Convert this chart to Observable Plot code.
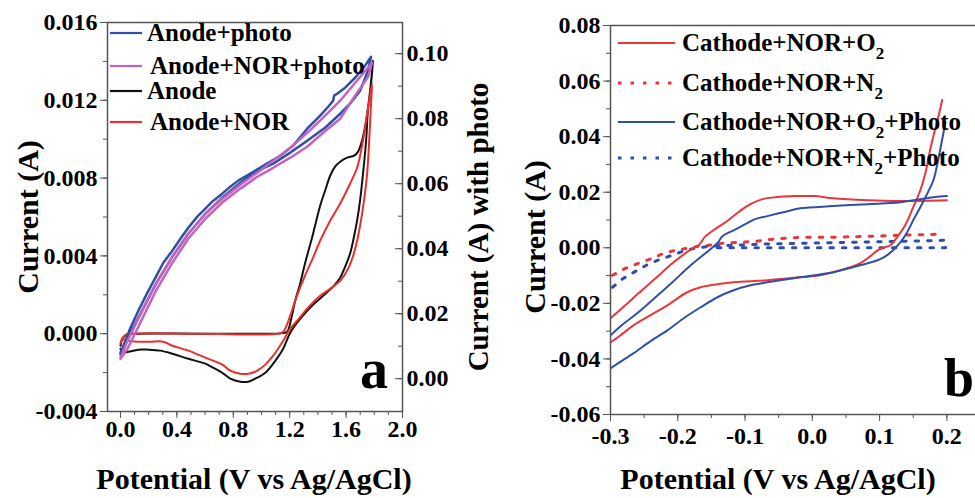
<!DOCTYPE html>
<html><head><meta charset="utf-8">
<script src="https://cdn.jsdelivr.net/npm/d3@7"></script>
<script src="https://cdn.jsdelivr.net/npm/@observablehq/plot@0.6"></script>
<style>
html,body{margin:0;padding:0;background:#fff;overflow:hidden}
#wrap{position:relative;width:975px;height:498px;overflow:hidden;background:#fff}
#wrap svg{position:absolute;top:0}
</style></head><body><div id="wrap"></div>
<script>
// ---------- Panel a data: [potential V, current A] ----------
const aSeries = ["Anode+photo", "Anode+NOR+photo", "Anode", "Anode+NOR"];
const aColors = ["#2f4fa6", "#c462c0", "#111111", "#e8312f"];
const anodePhoto = [[0.000,-0.00098],[0.035,-0.00036],[0.071,0.00031],[0.127,0.00118],[0.191,0.00211],[0.248,0.00288],[0.304,0.00365],[0.368,0.00427],[0.425,0.00488],[0.481,0.00545],[0.545,0.00602],[0.602,0.00643],[0.658,0.00684],[0.722,0.00720],[0.779,0.00756],[0.835,0.00787],[0.906,0.00817],[0.977,0.00848],[1.048,0.00879],[1.133,0.00915],[1.225,0.00967],[1.324,0.01054],[1.416,0.01121],[1.473,0.01167],[1.508,0.01198],[1.515,0.01224],[1.536,0.01234],[1.593,0.01265],[1.664,0.01316],[1.735,0.01378],[1.777,0.01424],[1.756,0.01352],[1.699,0.01249],[1.628,0.01183],[1.558,0.01131],[1.451,0.01059],[1.324,0.00992],[1.204,0.00931],[1.083,0.00874],[0.977,0.00838],[0.850,0.00776],[0.722,0.00699],[0.602,0.00617],[0.481,0.00514],[0.368,0.00396],[0.248,0.00252],[0.127,0.00082],[0.035,-0.00051],[0.000,-0.00108]];
const anodeNorPhoto = [[0.000,-0.00123],[0.050,-0.00036],[0.127,0.00077],[0.191,0.00170],[0.248,0.00252],[0.368,0.00396],[0.481,0.00514],[0.602,0.00617],[0.722,0.00694],[0.850,0.00766],[0.970,0.00828],[1.083,0.00889],[1.204,0.00956],[1.324,0.01033],[1.437,0.01111],[1.558,0.01198],[1.664,0.01290],[1.756,0.01368],[1.784,0.01393],[1.756,0.01321],[1.664,0.01224],[1.558,0.01105],[1.437,0.01033],[1.324,0.00961],[1.204,0.00905],[1.083,0.00853],[0.970,0.00807],[0.850,0.00746],[0.722,0.00674],[0.602,0.00591],[0.481,0.00488],[0.368,0.00365],[0.248,0.00216],[0.127,0.00036],[0.050,-0.00077],[0.000,-0.00129]];
const anode = [[0.000,-0.00062],[0.014,-0.00026],[0.042,-0.00005],[0.106,0],[0.566,0],[1.062,0],[1.147,0.00003],[1.182,0.0001],[1.211,0.00077],[1.239,0.0017],[1.274,0.00257],[1.310,0.00365],[1.359,0.00494],[1.416,0.00658],[1.451,0.00735],[1.487,0.00812],[1.522,0.00859],[1.558,0.00884],[1.607,0.00905],[1.657,0.00915],[1.685,0.00936],[1.713,0.00992],[1.742,0.01095],[1.770,0.01249],[1.791,0.01404],[1.777,0.01285],[1.756,0.01162],[1.742,0.00992],[1.720,0.00823],[1.699,0.00684],[1.678,0.00581],[1.650,0.00478],[1.628,0.00411],[1.593,0.00344],[1.558,0.00288],[1.508,0.00242],[1.437,0.00195],[1.381,0.00159],[1.324,0.00118],[1.253,0.00057],[1.204,0.00005],[1.154,-0.00077],[1.119,-0.00118],[1.083,-0.00154],[1.027,-0.00201],[0.970,-0.00226],[0.906,-0.00247],[0.850,-0.00247],[0.779,-0.00231],[0.722,-0.00201],[0.658,-0.00175],[0.602,-0.00154],[0.481,-0.00129],[0.368,-0.00103],[0.283,-0.00087],[0.198,-0.00082],[0.127,-0.00082],[0.057,-0.00093],[0.014,-0.00098],[0.000,-0.00077]];
const anodeNor = [[0.000,-0.00051],[0.014,-0.00021],[0.042,-0.00005],[0.085,0],[0.566,0],[1.119,0],[1.154,0.0001],[1.204,0.00093],[1.239,0.0017],[1.274,0.00237],[1.324,0.00324],[1.366,0.00391],[1.416,0.00478],[1.487,0.00581],[1.558,0.00669],[1.628,0.00771],[1.678,0.00853],[1.720,0.00992],[1.756,0.01162],[1.784,0.01285],[1.777,0.01183],[1.770,0.0108],[1.749,0.00823],[1.720,0.00648],[1.699,0.00555],[1.678,0.00478],[1.650,0.00401],[1.614,0.00334],[1.558,0.00272],[1.487,0.00231],[1.416,0.00195],[1.324,0.00129],[1.253,0.00067],[1.204,0.00026],[1.154,-0.00036],[1.083,-0.00113],[1.027,-0.00159],[0.970,-0.0019],[0.906,-0.00206],[0.850,-0.00206],[0.779,-0.0019],[0.722,-0.00159],[0.602,-0.00123],[0.481,-0.00087],[0.368,-0.00062],[0.304,-0.00041],[0.212,-0.00041],[0.127,-0.00041],[0.057,-0.00036],[0.014,-0.00031],[0.000,-0.00051]];
const aXTicks = [0.0, 0.4, 0.8, 1.2, 1.6, 2.0];
const aYTicks = [-0.004, 0.000, 0.004, 0.008, 0.012, 0.016];
const aRightTicks = [0.00, 0.02, 0.04, 0.06, 0.08, 0.10];

// ---------- Panel b data ----------
const bSeries = ["Cathode+NOR+O|2|", "Cathode+NOR+N|2|", "Cathode+NOR+O|2|+Photo", "Cathode+NOR+N|2|+Photo"];
const bColors = ["#e8363a", "#e8363a", "#2f4fa8", "#2f4fa8"];
const cathO2Up = [[-0.300,-0.0254],[-0.278,-0.0207],[-0.2585,-0.0164],[-0.233,-0.0110],[-0.208,-0.0056],[-0.189,-0.0020],[-0.177,0],[-0.169,0.0009],[-0.159,0.0041],[-0.147,0.0063],[-0.129,0.0092],[-0.110,0.0128],[-0.092,0.0157],[-0.074,0.0175],[-0.055,0.0182],[-0.025,0.0186],[0.0045,0.0186],[0.031,0.0178],[0.082,0.0171],[0.131,0.0168],[0.200,0.0171]];
const cathO2Down = [[-0.300,-0.0341],[-0.285,-0.0315],[-0.266,-0.0279],[-0.241,-0.0243],[-0.2155,-0.0207],[-0.186,-0.0160],[-0.166,-0.0142],[-0.144,-0.0132],[-0.117,-0.0124],[-0.067,-0.0117],[-0.018,-0.0106],[0.012,-0.0099],[0.031,-0.0088],[0.0565,-0.0070],[0.071,-0.0056],[0.086,-0.0031],[0.097,-0.0009],[0.1055,0],[0.116,0.0009],[0.126,0.0038],[0.138,0.0081],[0.150,0.0146],[0.1605,0.0207],[0.168,0.0268],[0.175,0.0351],[0.183,0.0431],[0.189,0.0488],[0.193,0.0532]];
const cathN2 = [[-0.297,-0.0099],[-0.278,-0.0074],[-0.2585,-0.0056],[-0.238,-0.0038],[-0.221,-0.0020],[-0.204,-0.0009],[-0.186,-0.0002],[-0.171,0.0005],[-0.1545,0.0009],[-0.134,0.0016],[-0.110,0.0020],[-0.085,0.0023],[-0.059,0.0031],[-0.018,0.0038],[0.031,0.0038],[0.082,0.0041],[0.131,0.0045],[0.190,0.0049]];
const cathO2PhotoUp = [[-0.300,-0.0315],[-0.282,-0.0276],[-0.2585,-0.0232],[-0.233,-0.0178],[-0.208,-0.0124],[-0.184,-0.0070],[-0.159,-0.0020],[-0.149,0],[-0.140,0.0020],[-0.134,0.0041],[-0.117,0.0063],[-0.0996,0.0085],[-0.085,0.0103],[-0.067,0.0114],[-0.043,0.0128],[-0.018,0.0142],[0.031,0.0150],[0.082,0.0157],[0.131,0.0164],[0.180,0.0182],[0.200,0.0186]];
const cathO2PhotoDown = [[-0.300,-0.0434],[-0.282,-0.0405],[-0.266,-0.0380],[-0.241,-0.0337],[-0.2155,-0.0297],[-0.189,-0.0250],[-0.166,-0.0214],[-0.141,-0.0178],[-0.117,-0.0153],[-0.092,-0.0135],[-0.067,-0.0124],[-0.018,-0.0106],[0.031,-0.0088],[0.071,-0.0063],[0.097,-0.0045],[0.1085,-0.0031],[0.120,-0.0009],[0.131,0.0020],[0.141,0.0056],[0.150,0.0099],[0.1605,0.0146],[0.171,0.0196],[0.180,0.0243],[0.187,0.0315],[0.192,0.0377],[0.198,0.0452]];
const cathN2Photo = [[-0.297,-0.0142],[-0.281,-0.0110],[-0.263,-0.0085],[-0.244,-0.0059],[-0.226,-0.0041],[-0.208,-0.0027],[-0.189,-0.0009],[-0.174,-0.0002],[-0.1545,0.0005],[-0.122,0.0009],[-0.077,0.0013],[-0.018,0.0016],[0.0565,0.0020],[0.131,0.0023],[0.198,0.0027],[0.198,0],[0.0565,0],[-0.092,0],[-0.144,0]];
const bXTicks = [-0.3, -0.2, -0.1, 0.0, 0.1, 0.2];
const bYTicks = [-0.06, -0.04, -0.02, 0.00, 0.02, 0.04, 0.06, 0.08];

// ---------- helpers ----------
const FONT = "Liberation Serif, Times New Roman, Times, serif";
const FRAME = "#555";
const fx = d => d[0], fy = d => d[1];
const wrap = document.getElementById("wrap");
const round = v => Math.round(v * 1e6) / 1e6;
// right axis of panel a (current with photo) expressed in left-axis units
const rightToLeft = r => -0.002314 + 0.16710 * r;
const leftToRight = c => (c + 0.002314) / 0.16710;

function txt(svg, x, y, s, o = {}) {
  const t = d3.select(svg).append("text")
    .attr("x", x).attr("y", y)
    .attr("font-family", FONT).attr("font-weight", "bold")
    .attr("font-size", o.size || 24).attr("fill", "#000")
    .attr("text-anchor", o.anchor || "start");
  if (o.rotate) t.attr("transform", `rotate(${o.rotate},${x},${y})`);
  const parts = s.split("|");
  parts.forEach((p, i) => {
    if (!p) return;
    const sub = i % 2 === 1;
    t.append("tspan").text(p)
      .attr("font-size", sub ? 17 : null)
      .attr("dy", sub ? 8 : (i > 0 ? -8 : 0));
  });
  return t;
}

// ---------- Panel a ----------
const aMinorX = d3.range(0, 21).map(i => round(i * 0.1));
const aMinorY = d3.range(-2, 9).map(i => round(i * 0.002));
const aMinorR = d3.range(0, 11).map(i => rightToLeft(round(i * 0.01)));
const plotA = Plot.plot({
  width: 487, height: 498,
  marginLeft: 107, marginRight: 85, marginTop: 22, marginBottom: 87,
  x: {domain: [-0.092, 2.0]},
  y: {domain: [-0.004, 0.016]},
  style: {fontFamily: FONT, fontWeight: "bold", fontSize: "24px", color: "#000", background: "transparent", overflow: "visible"},
  marks: [
    Plot.line(anode, {x: fx, y: fy, stroke: aColors[2], strokeWidth: 2, curve: "catmull-rom"}),
    Plot.line(anodeNor, {x: fx, y: fy, stroke: aColors[3], strokeWidth: 2, curve: "catmull-rom"}),
    Plot.line(anodePhoto, {x: fx, y: fy, stroke: aColors[0], strokeWidth: 2.5}),
    Plot.line(anodeNorPhoto, {x: fx, y: fy, stroke: aColors[1], strokeWidth: 2.5}),
    Plot.frame({stroke: FRAME, strokeWidth: 1.5}),
    Plot.axisX({ticks: aMinorX, tickSize: 4, tickFormat: () => "", stroke: FRAME, label: null}),
    Plot.axisX({ticks: aXTicks, tickSize: 7, tickPadding: 1, tickFormat: d => d.toFixed(1), stroke: FRAME, fill: "#000", fontSize: 24, fontWeight: "bold", label: null}),
    Plot.axisY({ticks: aMinorY, tickSize: 4, tickFormat: () => "", stroke: FRAME, label: null}),
    Plot.axisY({ticks: aYTicks, tickSize: 7, tickPadding: 3, tickFormat: d => d.toFixed(3), stroke: FRAME, fill: "#000", fontSize: 24, fontWeight: "bold", label: null}),
    Plot.axisY({anchor: "left", frameAnchor: "right", ticks: aMinorR, tickSize: 4, tickFormat: () => "", stroke: FRAME, label: null}),
    Plot.axisY({anchor: "left", frameAnchor: "right", ticks: aRightTicks.map(rightToLeft), tickSize: 7, tickFormat: () => "", stroke: FRAME, label: null}),
    Plot.axisY({anchor: "right", ticks: aRightTicks.map(rightToLeft), tickSize: 0, tickPadding: 4, tickFormat: d => leftToRight(d).toFixed(2), fill: "#000", fontSize: 24, fontWeight: "bold", label: null})
  ]
});
plotA.style.left = "0px";
wrap.appendChild(plotA);
{
  const rowsY = [33, 66, 91, 122], textX = [147, 150, 147, 150];
  aSeries.forEach((s, i) => {
    d3.select(plotA).append("line").attr("x1", 110).attr("x2", 142).attr("y1", rowsY[i]).attr("y2", rowsY[i])
      .attr("stroke", aColors[i]).attr("stroke-width", 2.2);
    txt(plotA, textX[i], rowsY[i] + 8, s, {size: 25});
  });
  txt(plotA, 254, 489, "Potential (V vs Ag/AgCl)", {size: 30, anchor: "middle"});
  txt(plotA, 38, 217, "Current (A)", {size: 30, anchor: "middle", rotate: -90});
  txt(plotA, 488, 227, "Current (A) with photo", {size: 29, anchor: "middle", rotate: -90});
  txt(plotA, 360, 388, "a", {size: 56});
}

// ---------- Panel b ----------
const bMinorX = d3.range(-6, 6).map(i => round(i * 0.05));
const bMinorY = d3.range(-6, 9).map(i => round(i * 0.01));
const plotB = Plot.plot({
  width: 493, height: 498,
  marginLeft: 123, marginRight: 0, marginTop: 25, marginBottom: 84,
  x: {domain: [-0.3, 0.25]},
  y: {domain: [-0.06, 0.08]},
  style: {fontFamily: FONT, fontWeight: "bold", fontSize: "24px", color: "#000", background: "transparent", overflow: "visible"},
  marks: [
    Plot.line(cathN2, {x: fx, y: fy, stroke: bColors[1], strokeWidth: 3, strokeDasharray: "3.5,9"}),
    Plot.line(cathN2Photo, {x: fx, y: fy, stroke: bColors[3], strokeWidth: 3, strokeDasharray: "3.5,9"}),
    Plot.line(cathO2Up, {x: fx, y: fy, stroke: bColors[0], strokeWidth: 2, curve: "catmull-rom", clip: true}),
    Plot.line(cathO2Down, {x: fx, y: fy, stroke: bColors[0], strokeWidth: 2, curve: "catmull-rom", clip: true}),
    Plot.line(cathO2PhotoUp, {x: fx, y: fy, stroke: bColors[2], strokeWidth: 2, curve: "catmull-rom", clip: true}),
    Plot.line(cathO2PhotoDown, {x: fx, y: fy, stroke: bColors[2], strokeWidth: 2, curve: "catmull-rom", clip: true}),
    Plot.frame({stroke: FRAME, strokeWidth: 1.5}),
    Plot.axisX({ticks: bMinorX, tickSize: 4, tickFormat: () => "", stroke: FRAME, label: null}),
    Plot.axisX({ticks: bXTicks, tickSize: 7, tickPadding: 5, tickFormat: d => d.toFixed(1), stroke: FRAME, fill: "#000", fontSize: 24, fontWeight: "bold", label: null}),
    Plot.axisY({ticks: bMinorY, tickSize: 4, tickFormat: () => "", stroke: FRAME, label: null}),
    Plot.axisY({ticks: bYTicks, tickSize: 7, tickPadding: 3, tickFormat: d => d.toFixed(2), stroke: FRAME, fill: "#000", fontSize: 24, fontWeight: "bold", label: null})
  ]
});
plotB.style.left = "487px";
wrap.appendChild(plotB);
{
  const rowsY = [43, 83, 122, 158];
  bSeries.forEach((s, i) => {
    d3.select(plotB).append("line").attr("x1", 131).attr("x2", 188).attr("y1", rowsY[i]).attr("y2", rowsY[i])
      .attr("stroke", bColors[i]).attr("stroke-width", i % 2 ? 3 : 2)
      .attr("stroke-dasharray", i % 2 ? "3.5,9" : null);
    txt(plotB, 195, rowsY[i] + 8, s, {size: 25});
  });
  txt(plotB, 291, 489, "Potential (V vs Ag/AgCl)", {size: 30, anchor: "middle"});
  txt(plotB, 58, 237, "Current (A)", {size: 30, anchor: "middle", rotate: -90});
  txt(plotB, 457, 396, "b", {size: 54});
}
</script></body></html>
